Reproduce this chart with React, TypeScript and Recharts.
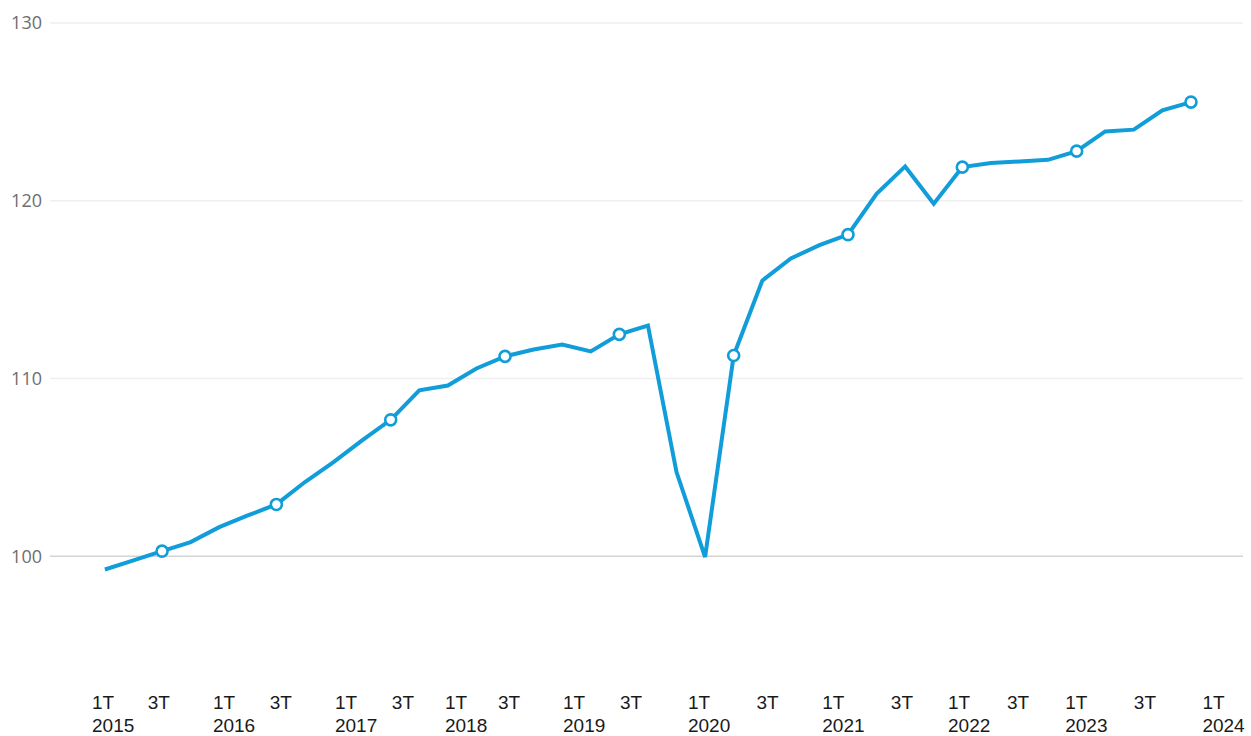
import React from 'react';
import { LineChart, Line, XAxis, YAxis, ReferenceLine } from 'recharts';

// quarterly index, 1T 2015 .. 3T 2024
const quarters = [
  1, 2, 3, 4, 1, 2, 3, 4, 1, 2, 3, 4, 1, 2, 3, 4, 1, 2, 3, 4,
  1, 2, 3, 4, 1, 2, 3, 4, 1, 2, 3, 4, 1, 2, 3, 4, 1, 2, 3,
];
const values = [
  99.25, 99.76, 100.28, 100.79, 101.63, 102.29, 102.91, 104.17, 105.29, 106.51,
  107.67, 109.33, 109.6, 110.56, 111.24, 111.63, 111.91, 111.52, 112.48, 112.98,
  104.73, 99.95, 111.29, 115.5, 116.75, 117.5, 118.09, 120.39, 121.93, 119.83,
  121.89, 122.12, 122.21, 122.3, 122.79, 123.9, 124.0, 125.08, 125.55,
];

// axis labels (positions in quarter units, as placed in the original)
const tickPos = [
  -0.45, 1.5, 3.78, 5.77, 8.05, 10.04, 11.9, 13.75, 16.03, 18.02,
  20.4, 22.8, 25.1, 27.5, 29.5, 31.56, 33.6, 36.0, 38.4,
];
const tickQuarter = [
  '1T', '3T', '1T', '3T', '1T', '3T', '1T', '3T', '1T', '3T',
  '1T', '3T', '1T', '3T', '1T', '3T', '1T', '3T', '1T',
];
const tickYear = [
  '2015', '', '2016', '', '2017', '', '2018', '', '2019', '',
  '2020', '', '2021', '', '2022', '', '2023', '', '2024',
];
const yTicks = [100, 110, 120, 130];

const data = values.map((v, i) => ({ i, q: quarters[i], value: v }));

const BLUE = '#119dd9';

const XTick = (props: any) => {
  const { x, y, payload } = props;
  const k = tickPos.indexOf(payload.value);
  return (
    <g>
      <text x={x} y={y + 56} textAnchor='start' fontSize={19} fill='#1a1a1a' fontFamily='Liberation Sans, Arial, sans-serif'>
        {tickQuarter[k]}
      </text>
      <text x={x} y={y + 79} textAnchor='start' fontSize={19} fill='#1a1a1a' fontFamily='Liberation Sans, Arial, sans-serif'>
        {tickYear[k]}
      </text>
    </g>
  );
};

const Marker = (props: any) => {
  const { cx, cy, payload, index } = props;
  if (payload.q !== 3) return <g key={index} />;
  return <circle key={index} cx={cx} cy={cy} r={5.5} fill='#fff' stroke={BLUE} strokeWidth={2.6} />;
};

const App: React.FC = () => {
  return (
    <div style={{ position: 'absolute', left: 0, top: 0, width: 1251, height: 736, background: '#fff' }}>
      <LineChart width={1251} height={736} data={data} margin={{ top: 23, right: 8, bottom: 0, left: 0 }}>
        <XAxis
          dataKey='i'
          type='number'
          domain={[-1.92, 39.82]}
          ticks={tickPos}
          interval={0}
          axisLine={false}
          tickLine={false}
          height={91}
          tick={<XTick />}
        />
        <YAxis
          type='number'
          domain={[95, 130]}
          ticks={yTicks}
          width={50}
          axisLine={false}
          tickLine={false}
          tick={{ fontSize: 18, fill: '#6e6e6e', fontFamily: 'Open Sans, sans-serif' }}
        />
        {yTicks.map((t) => (
          <ReferenceLine
            key={t}
            y={t}
            stroke={t === 100 ? '#d4d4d4' : '#efefef'}
            strokeWidth={1.5}
          />
        ))}
        <Line
          type='linear'
          dataKey='value'
          stroke={BLUE}
          strokeWidth={4}
          dot={<Marker />}
          activeDot={false}
          isAnimationActive={false}
        />
      </LineChart>
    </div>
  );
};

export default App;
